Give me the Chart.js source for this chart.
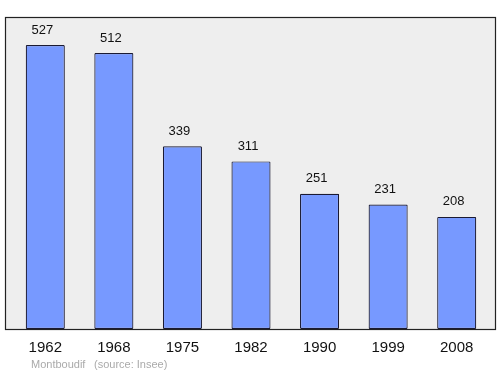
<!DOCTYPE html>
<html><head><meta charset="utf-8">
<script src="https://cdn.jsdelivr.net/npm/chart.js@4/dist/chart.umd.min.js"></script>
<style>html,body{margin:0;padding:0;background:#fff}#wrap{width:500px;height:374px}</style>
</head><body><div id="wrap"><canvas id="c"></canvas></div>
<script>
const years = ['1962','1968','1975','1982','1990','1999','2008'];
const population = [527, 512, 339, 311, 251, 231, 208];
const footerPlace = 'Montboudif';
const footerSource = '(source: Insee)';

const FONT = '"Liberation Sans", Arial, sans-serif';

const framePlugin = {
  id: 'frame',
  beforeDatasetsDraw(chart) {
    const {ctx, chartArea: a} = chart;
    ctx.save();
    ctx.fillStyle = '#eeeeee';
    ctx.fillRect(a.left - 6, a.top, a.right - a.left + 10, a.bottom - a.top);
    ctx.restore();
  },
  afterDatasetsDraw(chart) {
    const {ctx, chartArea: a} = chart;
    ctx.save();
    ctx.strokeStyle = '#222';
    ctx.lineWidth = 1.2;
    ctx.strokeRect(Math.round(a.left - 6) + 0.5, Math.round(a.top) + 0.5,
                   Math.round(a.right - a.left + 10), Math.round(a.bottom - a.top));
    // value labels
    const meta = chart.getDatasetMeta(0);
    ctx.fillStyle = '#111';
    ctx.font = '13px ' + FONT;
    ctx.textAlign = 'center';
    ctx.textBaseline = 'middle';
    meta.data.forEach((bar, i) => {
      ctx.fillText(String(population[i]), bar.x - 3, bar.y - 15);
    });
    // footer
    ctx.fillStyle = '#aaaaaa';
    ctx.font = '11px ' + FONT;
    ctx.textAlign = 'left';
    ctx.fillText(footerPlace, 31, 365);
    ctx.fillText(footerSource, 94, 365);
    ctx.restore();
  }
};

new Chart(document.getElementById('c'), {
  type: 'bar',
  data: {
    labels: years,
    datasets: [{
      data: population,
      backgroundColor: '#7799ff',
      borderColor: '#1a1a33',
      borderWidth: 1.2,
      borderRadius: 1,
      borderSkipped: false,
      barPercentage: 0.57,
      categoryPercentage: 1
    }]
  },
  options: {
    responsive: true,
    maintainAspectRatio: false,
    animation: false,
    layout: {padding: {left: 11, right: 9, top: 17, bottom: 7}},
    plugins: {legend: {display: false}, tooltip: {enabled: false}},
    scales: {
      x: {
        grid: {display: false, drawTicks: false},
        border: {display: false},
        ticks: {color: '#111', font: {family: FONT, size: 15}, padding: 10, maxRotation: 0}
      },
      y: {display: false, min: 0, max: 579}
    }
  },
  plugins: [framePlugin]
});
</script>
</body></html>
